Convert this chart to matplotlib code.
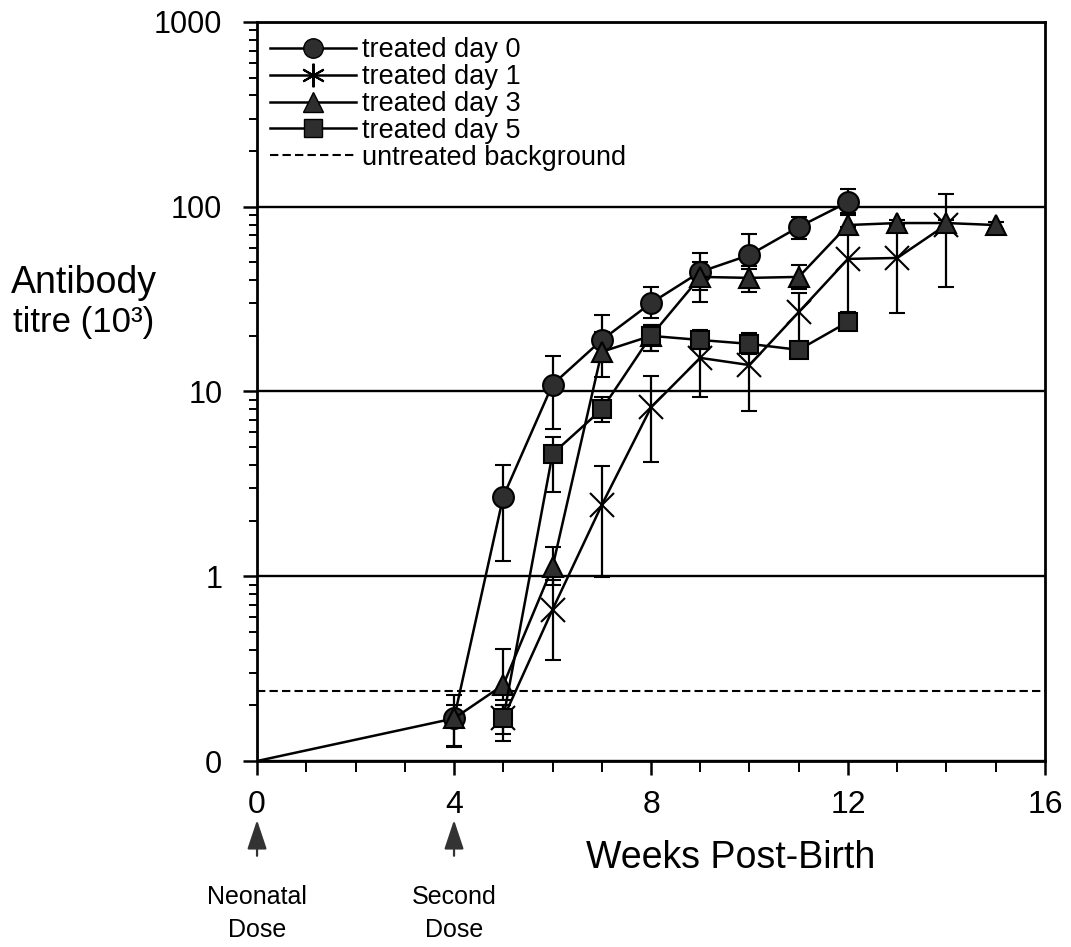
import numpy as np
import matplotlib
matplotlib.use('Agg')
import matplotlib.pyplot as plt
from matplotlib.lines import Line2D
from matplotlib.ticker import FixedLocator, LogLocator, NullFormatter

plt.rcParams['font.family'] = ['Liberation Sans', 'DejaVu Sans']

# data (titre in 10^3, "0" on the axis is drawn at 0.1)
weeks_d0 = [0, 4, 5, 6, 7, 8, 9, 10, 11, 12]
titre_d0 = [0.1, 0.17, 2.7, 10.9, 19.0, 30.1, 44.4, 54.8, 77.7, 106]
low_d0 = [0.1, 0.119, 1.21, 6.3, 14.5, 25, 35.4, 46, 66.9, 92]
high_d0 = [0.1, 0.228, 4.0, 15.6, 25.8, 36.8, 56, 71.3, 88, 125]

weeks_d1 = [5, 6, 7, 8, 9, 10, 11, 12, 13, 14]
titre_d1 = [0.17, 0.66, 2.43, 8.2, 15.2, 13.9, 26.9, 52.2, 52.8, 80]
low_d1 = [0.14, 0.35, 0.99, 4.15, 9.35, 7.85, 18, 27, 26.6, 36.8]
high_d1 = [0.2, 0.95, 3.95, 12.1, 19, 18, 34, 78, 80, 117]

weeks_d3 = [4, 5, 6, 7, 8, 9, 10, 11, 12, 13, 14, 15]
titre_d3 = [0.17, 0.258, 1.12, 16.4, 20, 41.7, 41.2, 41.7, 79.6, 81.6, 81.6, 79.6]
low_d3 = [0.12, 0.214, 0.9, 12.0, 16.6, 30.6, 34.6, 36, 75, 78, 78, 76]
high_d3 = [0.2, 0.404, 1.44, 21, 23, 50, 48, 48.4, 90, 85, 85, 83]

weeks_d5 = [5, 6, 7, 8, 9, 10, 11, 12]
titre_d5 = [0.17, 4.6, 8.0, 20, 19, 18.1, 16.8, 23.8]
low_d5 = [0.128, 2.86, 6.84, 16.6, 17, 16, 15.5, 22]
high_d5 = [0.2, 5.7, 9.3, 23, 21.4, 20.7, 18, 25.5]

background = 0.24

fig = plt.figure(figsize=(10.71, 9.47), dpi=100)
ax = fig.add_axes([0.240, 0.1964, 0.7357, 0.7804])

face = '#2e2e2e'


def draw(weeks, titre, low, high, marker, ms, mfc, start=0):
    titre = np.array(titre)
    yerr = [titre - np.array(low), np.array(high) - titre]
    ax.errorbar(weeks, titre, yerr=yerr, fmt='-', color='black', lw=1.8,
                elinewidth=1.6, capsize=6, capthick=1.6,
                marker=marker, ms=ms, mfc=mfc, mec='black', mew=1.5,
                markevery=range(start, len(weeks)))


draw(weeks_d0, titre_d0, low_d0, high_d0, 'o', 15, face, start=1)
draw(weeks_d1, titre_d1, low_d1, high_d1, 'x', 17, 'none')
draw(weeks_d3, titre_d3, low_d3, high_d3, '^', 15, face)
draw(weeks_d5, titre_d5, low_d5, high_d5, 's', 13, face)

ax.axhline(background, color='black', lw=1.5, ls=(0, (4, 2)))

ax.set_yscale('log')
ax.set_ylim(0.1, 1000)
ax.set_xlim(0, 16)
ax.yaxis.set_major_locator(FixedLocator([0.1, 1, 10, 100, 1000]))
ax.set_yticklabels(['0', '1', '10', '100', '1000'])
ax.yaxis.set_minor_locator(LogLocator(base=10, subs=np.arange(2, 10)))
ax.yaxis.set_minor_formatter(NullFormatter())
ax.set_xticks([0, 4, 8, 12, 16])
ax.set_xticks(np.arange(0, 17), minor=True)

ax.grid(axis='y', which='major', color='black', lw=1.7)
for s in ax.spines.values():
    s.set_linewidth(2)
ax.tick_params(axis='y', which='major', direction='out', length=10, width=1.8, pad=15, labelsize=22)
ax.tick_params(axis='y', which='minor', direction='out', length=6, width=1.4)
ax.tick_params(axis='x', which='major', direction='out', length=10, width=1.8, pad=11, labelsize=23)
ax.tick_params(axis='x', which='minor', direction='out', length=8, width=1.4)

fig.text(0.0784, 0.701, 'Antibody', ha='center', va='center', fontsize=27)
fig.text(0.0784, 0.659, 'titre (10³)', ha='center', va='center', fontsize=25)

ax.text(9.62, -0.131, 'Weeks Post-Birth', transform=ax.get_xaxis_transform(),
        ha='center', va='center', fontsize=27)

for wk, lines in [(0, ['Neonatal', 'Dose']), (4, ['Second', 'Dose'])]:
    ax.annotate('', xy=(wk, -0.076), xycoords=ax.get_xaxis_transform(),
                xytext=(wk, -0.132), textcoords=ax.get_xaxis_transform(),
                arrowprops=dict(arrowstyle='-|>,head_width=0.3,head_length=0.9',
                                mutation_scale=20, color='#333333', lw=1.6),
                annotation_clip=False)
    ax.text(wk, -0.184, lines[0], transform=ax.get_xaxis_transform(),
            ha='center', va='center', fontsize=18)
    ax.text(wk, -0.229, lines[1], transform=ax.get_xaxis_transform(),
            ha='center', va='center', fontsize=18)

handles = [
    Line2D([], [], color='black', lw=1.8, marker='o', ms=14, mfc=face, mec='black'),
    Line2D([], [], color='black', lw=1.8, marker=(6, 2, 0), ms=17, mec='black', mew=1.5),
    Line2D([], [], color='black', lw=1.8, marker='^', ms=15, mfc=face, mec='black'),
    Line2D([], [], color='black', lw=1.8, marker='s', ms=13, mfc=face, mec='black'),
    Line2D([], [], color='black', lw=1.5, ls=(0, (4, 2))),
]
labels = ['treated day 0', 'treated day 1', 'treated day 3', 'treated day 5',
          'untreated background']
ax.legend(handles, labels, loc='upper left', bbox_to_anchor=(0.016, 0.979),
          frameon=False, fontsize=19.5, handlelength=3.2, handletextpad=0.2,
          labelspacing=0.03, borderpad=0, borderaxespad=0)

fig.savefig('out.png', dpi=100)
